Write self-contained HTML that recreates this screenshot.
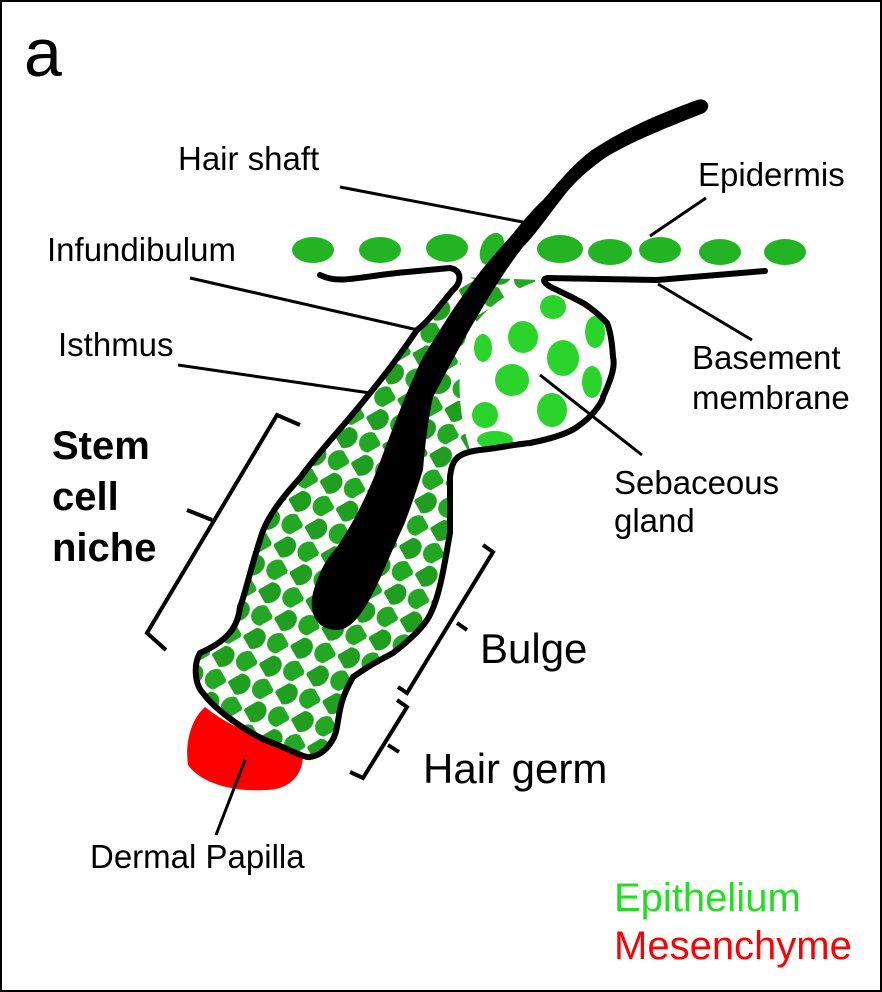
<!DOCTYPE html>
<html><head><meta charset="utf-8"><style>
html,body{margin:0;padding:0;background:#fff}
svg{display:block}
text{font-family:"Liberation Sans",Arial,sans-serif}
</style></head><body>
<svg width="882" height="992" viewBox="0 0 882 992" xmlns="http://www.w3.org/2000/svg">
<defs>
<pattern id="cells" width="36" height="32" patternUnits="userSpaceOnUse" patternTransform="rotate(-30)">
<ellipse cx="9" cy="8" rx="12" ry="10" fill="#1f9e1f"/>
<ellipse cx="27" cy="24" rx="11" ry="10" fill="#23a823"/>
</pattern>
</defs>
<rect x="1" y="1" width="880" height="990" fill="#fff" stroke="#000" stroke-width="2"/>
<text x="24" y="76" font-size="68">a</text>

<g fill="#22b422">
<ellipse cx="313" cy="250" rx="21" ry="13"/>
<ellipse cx="380" cy="250" rx="21" ry="13"/>
<ellipse cx="447" cy="248" rx="21" ry="14"/>
<ellipse cx="492" cy="249" rx="11" ry="17" transform="rotate(25 492 249)"/>
<ellipse cx="560" cy="249" rx="23" ry="14"/>
<ellipse cx="610" cy="252" rx="22" ry="13"/>
<ellipse cx="660" cy="250" rx="21" ry="13"/>
<ellipse cx="720" cy="252" rx="21" ry="13"/>
<ellipse cx="785" cy="252" rx="21" ry="13"/>
</g>

<path d="M205,707 C190,720 185,745 188,765 C200,782 230,792 265,790 C290,790 302,775 303,757 C290,750 270,742 250,733 C230,725 215,715 205,707 Z" fill="#f00"/>

<path d="M460,277 C462,282 458,286 453,290 C440,305 430,320 417,330 C400,355 385,375 370,393 C345,425 320,450 300,478 C280,500 265,520 260,540 C250,570 245,595 240,607 C238,625 230,640 200,653 C193,665 195,685 203,693 C215,710 250,735 273,743 C295,752 305,758 310,757 C325,755 335,740 337,727 C340,710 340,700 353,677 C370,665 380,660 393,653 C410,640 420,630 427,620 C440,600 445,560 450,533 L450,477 C452,460 456,453 470,450 C460,420 455,380 465,340 C480,310 510,290 540,280 Z" fill="url(#cells)"/>
<g fill="#2bd42b">
<ellipse cx="553" cy="307" rx="13" ry="12"/>
<ellipse cx="523" cy="337" rx="15" ry="16"/>
<ellipse cx="563" cy="358" rx="16" ry="18"/>
<ellipse cx="595" cy="332" rx="10" ry="16"/>
<ellipse cx="512" cy="380" rx="17" ry="16"/>
<ellipse cx="552" cy="410" rx="15" ry="17"/>
<ellipse cx="592" cy="382" rx="10" ry="16"/>
<ellipse cx="485" cy="415" rx="13" ry="13"/>
<ellipse cx="495" cy="440" rx="18" ry="9"/>
<ellipse cx="483" cy="348" rx="9" ry="14"/>
</g>

<path d="M320,275 C340,285 360,276 407,272 L450,268 C462,270 462,282 453,290 C440,305 430,320 417,330 C400,355 385,375 370,393 C345,425 320,450 300,478 C280,500 265,520 260,540 C250,570 245,595 240,607 C238,625 230,640 200,653 C193,665 195,685 203,693 C215,710 250,735 273,743 C295,752 305,758 310,757 C325,755 335,740 337,727 C340,710 340,700 353,677 C370,665 380,660 393,653 C410,640 420,630 427,620 C440,600 445,560 450,533 L450,477 C452,460 456,453 480,450 C500,448 510,445 530,443 C555,438 570,432 577,427 C595,415 603,400 603,397 C613,375 615,365 613,357 C612,340 610,330 607,323 C595,310 583,303 583,303 C570,296 557,290 557,290 C545,285 540,279 548,278 L657,280 L765,271" fill="none" stroke="#000" stroke-width="6" stroke-linejoin="round" stroke-linecap="round"/>

<path d="M697,100 C706,97 713,106 704,113 C660,130 625,145 605,158 C585,172 572,185 563,197 C545,220 535,235 523,247 C505,270 490,295 477,317 C460,345 445,375 433,397 C428,420 425,445 423,470 C415,495 410,510 403,527 C390,555 380,580 373,593 C362,615 350,630 337,630 C318,630 308,615 313,593 C318,575 325,560 337,547 C355,520 367,495 377,470 C392,430 407,390 423,357 C440,330 455,305 467,290 C480,270 497,252 510,237 C520,225 530,212 543,200 C558,183 572,165 592,150 C630,125 670,110 697,100 Z" fill="#000"/>

<g stroke="#000" stroke-width="3" fill="none">
<line x1="340" y1="187" x2="528" y2="223"/>
<line x1="706" y1="198" x2="650" y2="236"/>
<line x1="190" y1="278" x2="418" y2="330"/>
<line x1="178" y1="365" x2="370" y2="393"/>
<line x1="540" y1="375" x2="642" y2="455"/>
<line x1="658" y1="284" x2="752" y2="340"/>
<line x1="245" y1="760" x2="216" y2="835"/>
</g>
<g stroke="#000" stroke-width="4" fill="none" stroke-linejoin="miter">
<polyline points="300,425 277,415 147,633 166,650"/>
<line x1="212" y1="520" x2="187" y2="510"/>
<polyline points="483,545 493,552 407,693 398,687"/>
<line x1="457" y1="623" x2="467" y2="630"/>
<polyline points="397,700 407,707 363,778 350,772"/>
<line x1="388" y1="745" x2="399" y2="752"/>
</g>

<g font-size="33" fill="#000">
<text x="178" y="170">Hair shaft</text>
<text x="698" y="186">Epidermis</text>
<text x="47" y="261">Infundibulum</text>
<text x="58" y="356">Isthmus</text>
<text x="692" y="369">Basement</text>
<text x="692" y="409">membrane</text>
<text x="614" y="494">Sebaceous</text>
<text x="614" y="532">gland</text>
<text x="90" y="868">Dermal Papilla</text>
</g>
<g font-size="40" font-weight="bold">
<text x="52" y="459">Stem</text>
<text x="52" y="510">cell</text>
<text x="52" y="561">niche</text>
</g>
<text x="480" y="663" font-size="42">Bulge</text>
<text x="423" y="783" font-size="42">Hair germ</text>
<text x="614" y="911" font-size="40" fill="#22dd22">Epithelium</text>
<text x="614" y="959" font-size="40" fill="#f00">Mesenchyme</text>
</svg>
</body></html>
